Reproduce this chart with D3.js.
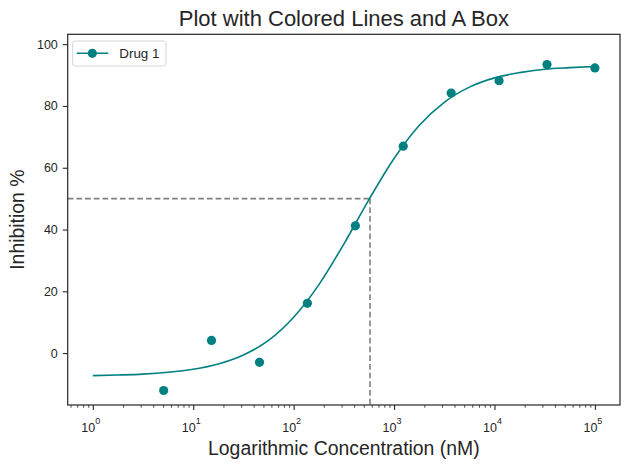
<!DOCTYPE html>
<html>
<head>
<meta charset="utf-8">
<script src="https://cdn.jsdelivr.net/npm/d3@7"></script>
<style>
  html, body { margin: 0; padding: 0; background: #fff; }
  svg { display: block; font-family: "Liberation Sans", Arial, sans-serif; }
</style>
</head>
<body>
<div id="chart"></div>
<script>
// Measured points (concentration in nM, inhibition %)
const concentrations = [5.08, 15.2, 45.7, 137, 412, 1235, 3704, 11111, 33333, 100000];
const inhibition = [-12.1, 4.1, -3.0, 16.1, 41.2, 67.0, 84.2, 88.2, 93.4, 92.3];

// Fitted curve at quarter-decade steps
const curveConc = [1, 1.778, 3.162, 5.623, 10, 17.78, 31.62, 56.23, 100, 177.8, 316.2, 562.3,
  1000, 1778, 3162, 5623, 10000, 17783, 31623, 56234, 100000];
const curveInhibition = [-7.3, -7.1, -6.8, -6.2, -5.2, -3.5, -0.6, 4.1, 11.6, 22.1, 35.3, 49.7,
  63.0, 73.7, 81.2, 86.1, 89.1, 90.8, 91.9, 92.4, 92.8];

// IC50 guide
const ic50 = 576;
const halfLevel = 50;

const yTicks = [0, 20, 40, 60, 80, 100];
const xTicks = [1, 10, 100, 1000, 10000, 100000];
const xDomain = [Math.pow(10, -0.25), Math.pow(10, 5.25)];
const yDomain = [-16.8, 103.2];

const seriesName = "Drug 1";
const color = "#008080";
const ink = "#262626";

const W = 630, H = 470;
const margin = { top: 34.3, right: 10, bottom: 65, left: 67.7 };
const plotW = W - margin.left - margin.right;
const plotH = H - margin.top - margin.bottom;

const svg = d3.select("#chart").append("svg")
  .attr("width", W)
  .attr("height", H)
  .attr("viewBox", [0, 0, W, H]);

const g = svg.append("g").attr("transform", `translate(${margin.left},${margin.top})`);

const x = d3.scaleLog().domain(xDomain).range([0, plotW]);
const y = d3.scaleLinear().domain(yDomain).range([plotH, 0]);

// Minor ticks on the log axis
const minorTicks = [];
for (let e = -1; e <= 5; e++) {
  for (let m = 2; m <= 9; m++) {
    const v = m * Math.pow(10, e);
    if (v >= xDomain[0] && v <= xDomain[1]) minorTicks.push(v);
  }
}

g.append("g")
  .attr("transform", `translate(0,${plotH})`)
  .call(d3.axisBottom(x).tickValues(minorTicks).tickSize(2.8).tickFormat(""))
  .call((a) => a.select(".domain").remove())
  .call((a) => a.selectAll(".tick line").attr("stroke", ink).attr("stroke-width", 0.8));

// Major x ticks with 10^n labels
const xAxis = g.append("g")
  .attr("transform", `translate(0,${plotH})`)
  .call(d3.axisBottom(x).tickValues(xTicks).tickSize(4.9).tickFormat(""))
  .call((a) => a.select(".domain").remove())
  .call((a) => a.selectAll(".tick line").attr("stroke", ink).attr("stroke-width", 1.1));

xAxis.selectAll(".tick").append("text")
  .attr("y", 26.8)
  .attr("x", -2.5)
  .attr("text-anchor", "middle")
  .attr("fill", ink)
  .style("font-size", "12.5px")
  .each(function (d) {
    const t = d3.select(this);
    t.append("tspan").text("10");
    t.append("tspan")
      .attr("dy", -8)
      .style("font-size", "9px")
      .text(Math.round(Math.log10(d)));
  });

// Y axis
g.append("g")
  .call(d3.axisLeft(y).tickValues(yTicks).tickSize(4.9).tickPadding(5))
  .call((a) => a.select(".domain").remove())
  .call((a) => a.selectAll(".tick line").attr("stroke", ink).attr("stroke-width", 1.1))
  .selectAll("text")
  .attr("fill", ink)
  .style("font-size", "12.5px")
  .style("font-family", "'Liberation Sans', Arial, sans-serif");

// IC50 dashed guides
g.append("line")
  .attr("x1", 0)
  .attr("x2", x(ic50))
  .attr("y1", y(halfLevel))
  .attr("y2", y(halfLevel))
  .attr("stroke", "#808080")
  .attr("stroke-width", 1.6)
  .attr("stroke-dasharray", "5.7,3");

g.append("line")
  .attr("x1", x(ic50))
  .attr("x2", x(ic50))
  .attr("y1", y(halfLevel))
  .attr("y2", plotH)
  .attr("stroke", "#808080")
  .attr("stroke-width", 1.6)
  .attr("stroke-dasharray", "5.7,3");

// Fitted curve
const fit = curveConc.map((c, i) => ({ c, v: curveInhibition[i] }));
const line = d3.line()
  .x((d) => x(d.c))
  .y((d) => y(d.v))
  .curve(d3.curveMonotoneX);

g.append("path")
  .datum(fit)
  .attr("fill", "none")
  .attr("stroke", color)
  .attr("stroke-width", 1.6)
  .attr("d", line);

// Data points
const points = concentrations.map((c, i) => ({ c, v: inhibition[i] }));
g.selectAll("circle.pt")
  .data(points)
  .join("circle")
  .attr("class", "pt")
  .attr("cx", (d) => x(d.c))
  .attr("cy", (d) => y(d.v))
  .attr("r", 4.6)
  .attr("fill", color);

// Box
g.append("rect")
  .attr("width", plotW)
  .attr("height", plotH)
  .attr("fill", "none")
  .attr("stroke", ink)
  .attr("stroke-width", 1.2);

// Legend
const legend = g.append("g").attr("transform", "translate(5,6.7)");
legend.append("rect")
  .attr("width", 93.3)
  .attr("height", 25)
  .attr("rx", 2.5)
  .attr("fill", "#fff")
  .attr("fill-opacity", 0.8)
  .attr("stroke", "#d6d6d6")
  .attr("stroke-width", 1);
legend.append("line")
  .attr("x1", 4).attr("x2", 35.6)
  .attr("y1", 12.3).attr("y2", 12.3)
  .attr("stroke", color)
  .attr("stroke-width", 1.6);
legend.append("circle")
  .attr("cx", 19.6).attr("cy", 12.3)
  .attr("r", 4.6)
  .attr("fill", color);
legend.append("text")
  .attr("x", 46.6)
  .attr("y", 12.3)
  .attr("dy", "0.36em")
  .attr("fill", ink)
  .style("font-size", "13.4px")
  .text(seriesName);

// Title and axis labels
svg.append("text")
  .attr("x", margin.left + plotW / 2)
  .attr("y", 26)
  .attr("text-anchor", "middle")
  .attr("fill", ink)
  .style("font-size", "22px")
  .text("Plot with Colored Lines and A Box");

svg.append("text")
  .attr("x", margin.left + plotW / 2)
  .attr("y", 455)
  .attr("text-anchor", "middle")
  .attr("fill", ink)
  .style("font-size", "19.4px")
  .text("Logarithmic Concentration (nM)");

svg.append("text")
  .attr("transform", `translate(23.5,${margin.top + plotH / 2}) rotate(-90)`)
  .attr("text-anchor", "middle")
  .attr("fill", ink)
  .style("font-size", "19.4px")
  .text("Inhibition %");
</script>
</body>
</html>
